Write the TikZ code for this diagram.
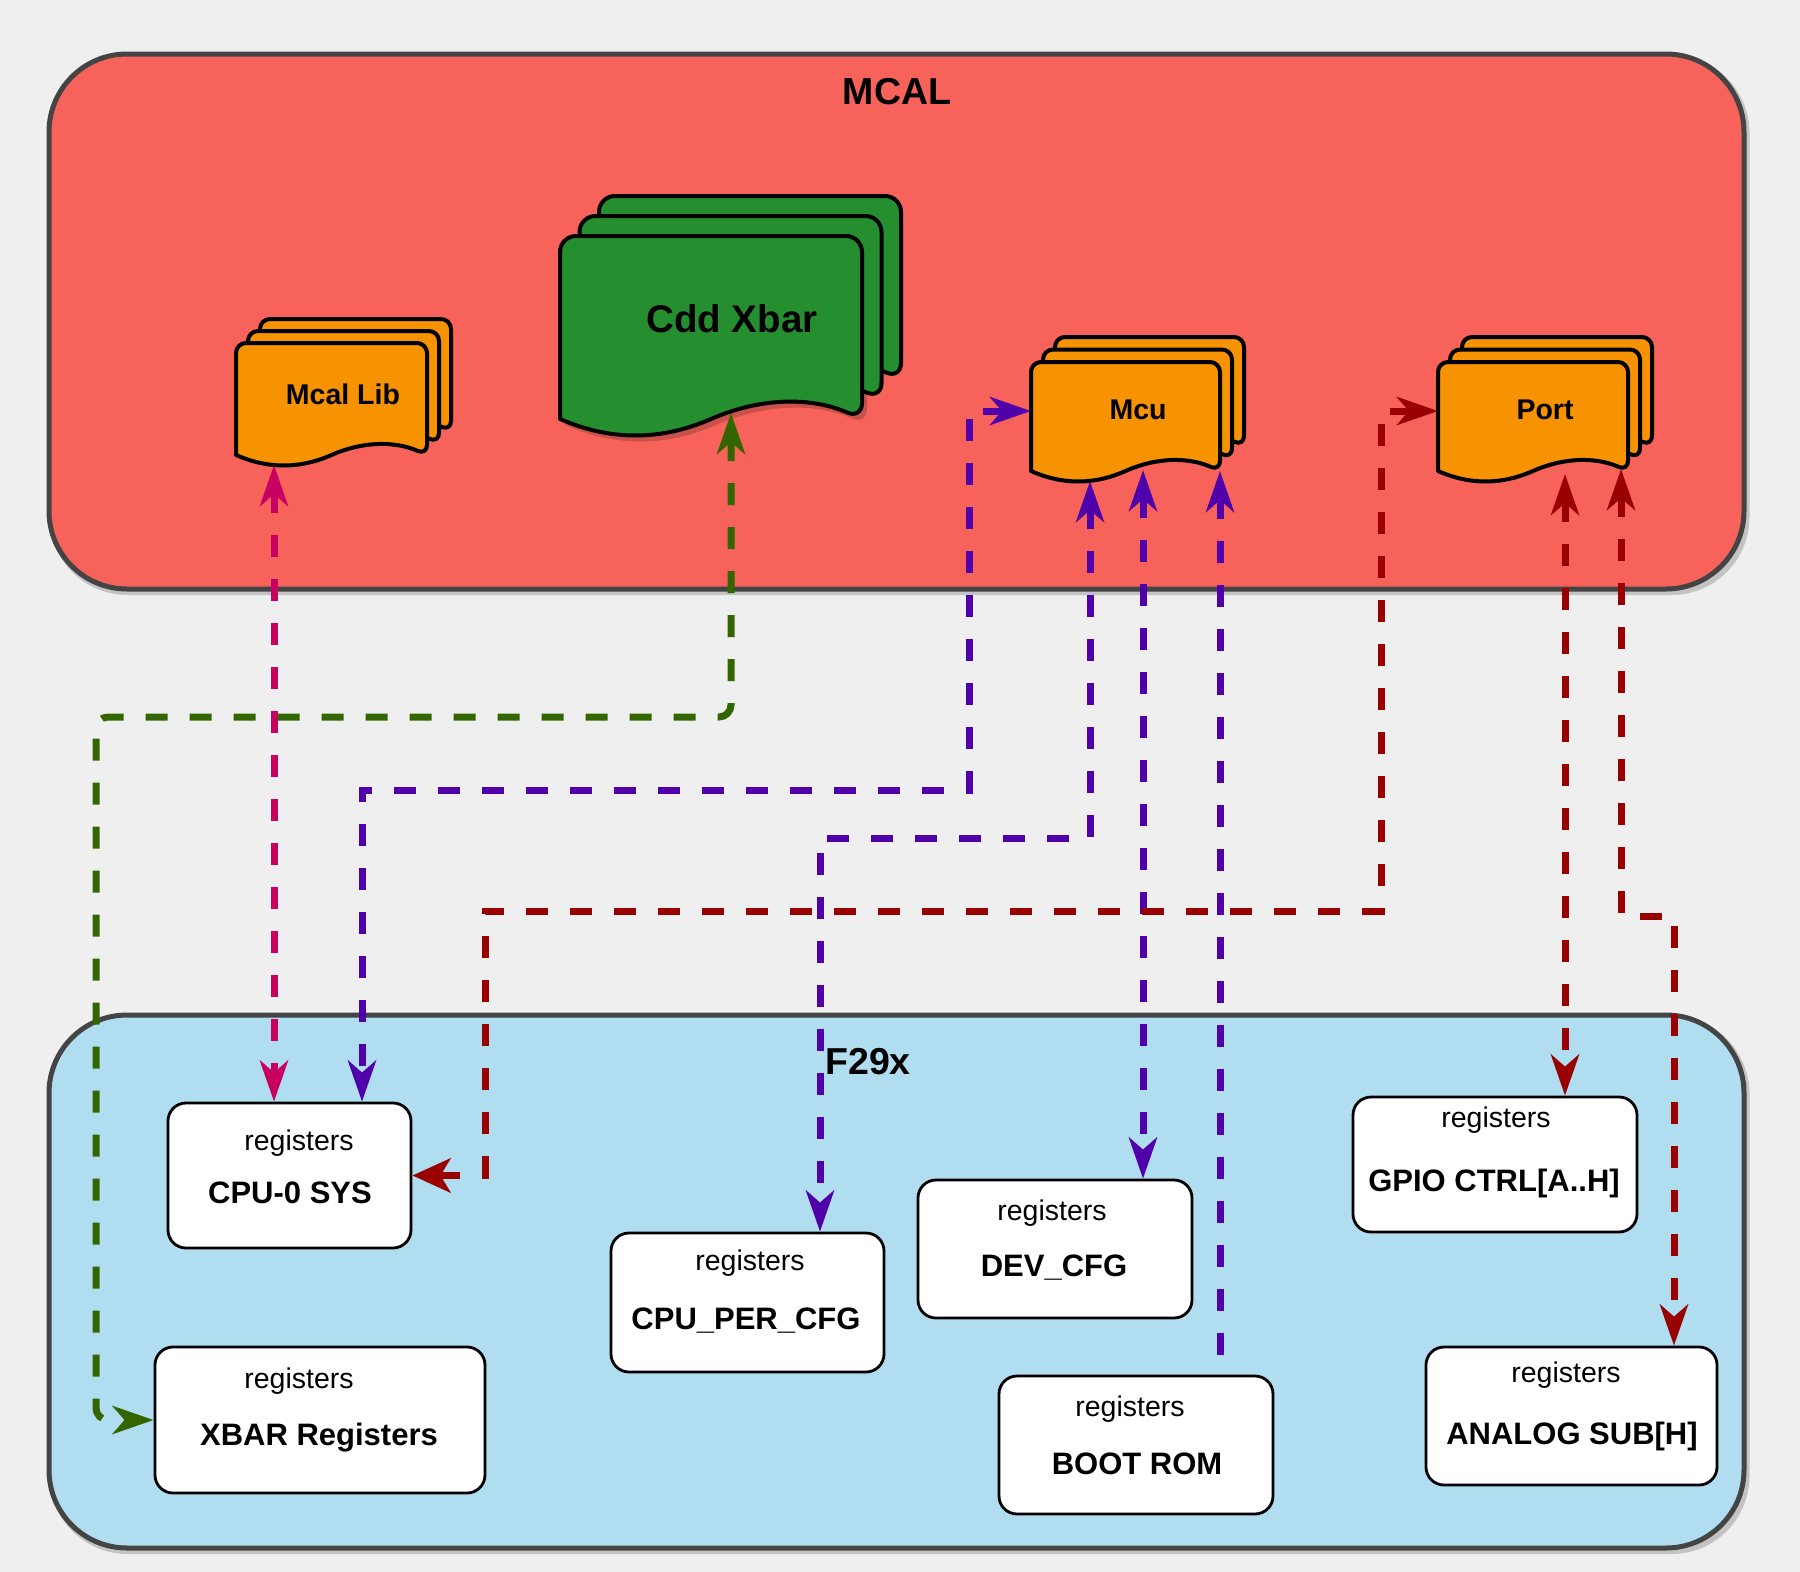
\documentclass[tikz,border=0pt]{standalone}
\usepackage{fontspec}
\setmainfont{Liberation Sans}
\usetikzlibrary{arrows.meta}
\definecolor{bgc}{HTML}{EFEFEF}
\definecolor{mcalc}{HTML}{F7635A}
\definecolor{f29c}{HTML}{B1DDF0}
\definecolor{boxline}{HTML}{444444}
\definecolor{orangec}{HTML}{F79200}
\definecolor{cddc}{HTML}{258E2F}
\definecolor{pinkc}{HTML}{C8005F}
\definecolor{purpc}{HTML}{5000AA}
\definecolor{redc}{HTML}{990000}
\definecolor{greenc}{HTML}{336600}
% one document sheet: #1 x, #2 top, #3 width, #4 side length, #5 wave amplitude, #6 style, #7 corner radius
\newcommand{\docone}[7]{%
  \path[#6]
    ({#1},{#2+#4}) [rounded corners=#7pt] -- ({#1},{#2}) -- ({#1+#3},{#2}) -- ({#1+#3},{#2+#4})
    [sharp corners] .. controls ({#1+0.8333*#3},{#2+#4-1.333*#5}) and ({#1+0.6667*#3},{#2+#4-1.333*#5}) .. ({#1+0.5*#3},{#2+#4})
    .. controls ({#1+0.3333*#3},{#2+#4+1.333*#5}) and ({#1+0.1667*#3},{#2+#4+1.333*#5}) .. ({#1},{#2+#4}) -- cycle;}
% stack of three sheets: #1 x, #2 top, #3 w, #4 side, #5 amp, #6 dx, #7 dy(up), #8 fill, #9 radius
\newcommand{\docstack}[9]{%
  \docone{#1+2*#6}{#2-2*#7}{#3}{#4}{#5}{docline,fill=#8}{#9}
  \docone{#1+#6}{#2-#7}{#3}{#4}{#5}{docline,fill=#8}{#9}
  \docone{#1}{#2}{#3}{#4}{#5}{docline,fill=#8}{#9}}
\begin{document}
\begin{tikzpicture}[x=1pt,y=-1pt,
  docline/.style={draw=black, line width=4pt, line join=round},
  groupbox/.style={draw=boxline, line width=5pt, rounded corners=78pt, inner sep=0pt},
  grpshadow/.style={fill=black, fill opacity=0.18, draw=none, rounded corners=78pt, inner sep=0pt},
  regbox/.style={draw=black, fill=white, line width=2.8pt, rounded corners=18pt, inner sep=0pt},
  regt/.style={inner sep=0pt, font=\fontsize{28.5}{34}\selectfont},
  regn/.style={inner sep=0pt, font=\bfseries\fontsize{31}{37}\selectfont},
  doclbl/.style={inner sep=0pt, font=\bfseries\fontsize{28.5}{34}\selectfont},
  bigt/.style={inner sep=0pt, font=\bfseries\fontsize{37.5}{44}\selectfont},
  conn/.style={line width=7pt, dash pattern=on 22pt off 22pt,
    >={Stealth[length=41pt,width=28pt,inset=12pt]}},
  bigend/.style={arrows={Stealth[length=41pt,width=28pt,inset=12pt]-Stealth[length=38pt,width=34pt,inset=10pt]}}
]
\useasboundingbox (0,0) rectangle (1800,1572);
\fill[bgc] (0,0) rectangle (1800,1572);

% group boxes (with soft shadow)
\node[grpshadow, minimum width=1700pt, minimum height=540pt] (mcalsh) at (899.5,325) {};
\node[groupbox, fill=mcalc, minimum width=1695pt, minimum height=535pt] (mcal) at (896.5,321.5) {};
\node[bigt] (mcallbl) at (897,92) {MCAL};
\node[grpshadow, minimum width=1700pt, minimum height=538pt] (f29sh) at (899.5,1285) {};
\node[groupbox, fill=f29c, minimum width=1695pt, minimum height=533pt] (f29) at (896.5,1281.5) {};
\node[bigt] (f29lbl) at (868,1062) {F29x};

% document stacks
\docstack{236}{343}{191}{112}{10.5}{12}{12}{orangec}{10}
\node[doclbl] (mcallib) at (343,394) {Mcal Lib};
\docone{565}{242}{302}{183}{16.5}{fill=black,fill opacity=0.18}{16}
\docstack{560}{236}{302}{183}{16.5}{19.5}{20}{cddc}{16}
\node[bigt, font=\bfseries\fontsize{38.5}{46}\selectfont] (cdd) at (732,319) {Cdd Xbar};
\docstack{1031}{362}{189}{109}{10.5}{12}{12.5}{orangec}{10}
\node[doclbl] (mcu) at (1138,410) {Mcu};
\docstack{1438}{362}{190}{109}{10.5}{12}{12.5}{orangec}{10}
\node[doclbl] (port) at (1545,410) {Port};

% attach points on the document shapes
\coordinate (lib-b) at (274,465);
\coordinate (cdd-b) at (731,413);
\coordinate (mcu-l) at (1031,411);
\coordinate (mcu-b1) at (1090,481);
\coordinate (mcu-b2) at (1143,470);
\coordinate (mcu-b3) at (1220,471);
\coordinate (port-l) at (1438,411);
\coordinate (port-b1) at (1565,474);
\coordinate (port-b2) at (1621,469);

% register boxes
\node[regbox, minimum width=243pt, minimum height=145pt] (cpu0) at (289.5,1175.5) {};
\node[regt] (cpu0a) at (299,1143) {registers};
\node[regn] (cpu0b) at (290,1193) {CPU-0 SYS};

\node[regbox, minimum width=330pt, minimum height=146pt] (xbar) at (320,1420) {};
\node[regt] (xbara) at (299,1381) {registers};
\node[regn] (xbarb) at (319,1438) {XBAR Registers};

\node[regbox, minimum width=273pt, minimum height=139pt] (cpuper) at (747.5,1302.5) {};
\node[regt] (cpupera) at (750,1263) {registers};
\node[regn] (cpuperb) at (746,1321) {CPU\_PER\_CFG};

\node[regbox, minimum width=274pt, minimum height=138pt] (devcfg) at (1055,1249) {};
\node[regt] (devcfga) at (1052,1213) {registers};
\node[regn] (devcfgb) at (1054,1268) {DEV\_CFG};

\node[regbox, minimum width=274pt, minimum height=138pt] (boot) at (1136,1445) {};
\node[regt] (boota) at (1130,1409) {registers};
\node[regn] (bootb) at (1137,1464) {BOOT ROM};

\node[regbox, minimum width=284pt, minimum height=135pt] (gpio) at (1495,1164.5) {};
\node[regt] (gpioa) at (1496,1120) {registers};
\node[regn] (gpiob) at (1494,1183) {GPIO CTRL[A..H]};

\node[regbox, minimum width=291pt, minimum height=138pt] (analog) at (1571.5,1416) {};
\node[regt] (analoga) at (1566,1375) {registers};
\node[regn] (analogb) at (1572,1436) {ANALOG SUB[H]};

% connectors
\draw[conn, pinkc, <->] (lib-b) -- (lib-b |- cpu0.north);
\draw[conn, greenc, <->, rounded corners=12pt] (cdd-b) |- (96,717) |- (xbar.west);
\draw[conn, purpc, <->] (mcu-l) -| (969,790) -| ([xshift=72.5pt]cpu0.north);
\draw[conn, purpc, <->] (mcu-b1) |- (820,838) -- ([xshift=72.5pt]cpuper.north);
\draw[conn, purpc, <->] (mcu-b2) -- (mcu-b2 |- devcfg.north);
\draw[conn, purpc, <-] (mcu-b3) -- (mcu-b3 |- boot.north);
\draw[conn, redc, bigend] (port-l) -| (1381,911) -| (485,1175.5) -- (cpu0.east);
\draw[conn, redc, <->] (port-b1) -- (port-b1 |- gpio.north);
\draw[conn, redc, <->] (port-b2) |- (1674,916) -- ([xshift=102.5pt]analog.north);
\end{tikzpicture}
\end{document}
